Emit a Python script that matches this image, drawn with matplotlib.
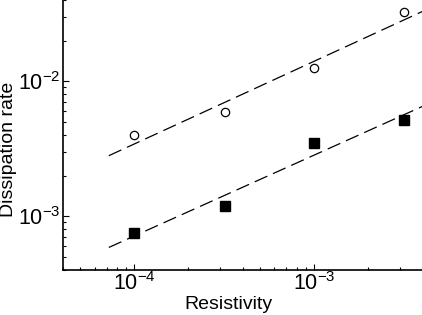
import numpy as np
import matplotlib
matplotlib.use("Agg")
import matplotlib.pyplot as plt
from matplotlib.ticker import LogLocator

plt.rcParams['font.family'] = ['Liberation Sans', 'DejaVu Sans']
plt.rcParams['mathtext.fontset'] = 'custom'
plt.rcParams['mathtext.rm'] = 'Liberation Sans'
plt.rcParams['mathtext.it'] = 'Liberation Sans:italic'

# Data
resistivity = [1e-4, 3.2e-4, 1e-3, 3.16e-3]
rate_open = [4.0e-3, 5.9e-3, 1.25e-2, 3.25e-2]
rate_filled = [7.5e-4, 1.2e-3, 3.5e-3, 5.2e-3]
fit_range = [7.2e-5, 4.5e-3]
x_label = "Resistivity"
y_label = "Dissipation rate"

fig = plt.figure(figsize=(4.22, 3.15), dpi=100)
ax = fig.add_axes([63/422, 45/315, (422-63)/422, 270/315])

fx = np.array(fit_range)
for yvals in (rate_open, rate_filled):
    p = np.polyfit(np.log10(resistivity), np.log10(yvals), 1)
    fy = 10 ** np.polyval(p, np.log10(fx))
    ax.plot(fx, fy, color='black', lw=0.9, dashes=(11, 5))

ax.plot(resistivity, rate_open, 'o', ms=6, mfc='white', mec='black', mew=0.9, ls='none')
ax.plot(resistivity, rate_filled, 's', ms=6.5, mfc='black', mec='black', ls='none')

ax.set_xscale('log')
ax.set_yscale('log')
ax.set_xlim(4e-5, 4e-3)
ax.set_ylim(4e-4, 4e-2)

ax.spines['top'].set_visible(False)
ax.spines['right'].set_visible(False)
for s in ('left', 'bottom'):
    ax.spines[s].set_linewidth(1.2)

ax.tick_params(which='both', direction='in', labelsize=15.5, width=0.8)
ax.tick_params(which='major', length=4.5, pad=1.5)
ax.tick_params(which='minor', length=2.5)
ax.yaxis.set_minor_locator(LogLocator(base=10, subs=np.arange(2, 10)))
ax.xaxis.set_minor_locator(LogLocator(base=10, subs=np.arange(2, 10)))

ax.set_xlabel(x_label, fontsize=14, labelpad=0)
ax.xaxis.set_label_coords(0.46, -0.095)
ax.set_ylabel(y_label, fontsize=14, labelpad=0)
ax.yaxis.set_label_coords(-0.128, 0.445)

fig.savefig("out.png", dpi=100)
